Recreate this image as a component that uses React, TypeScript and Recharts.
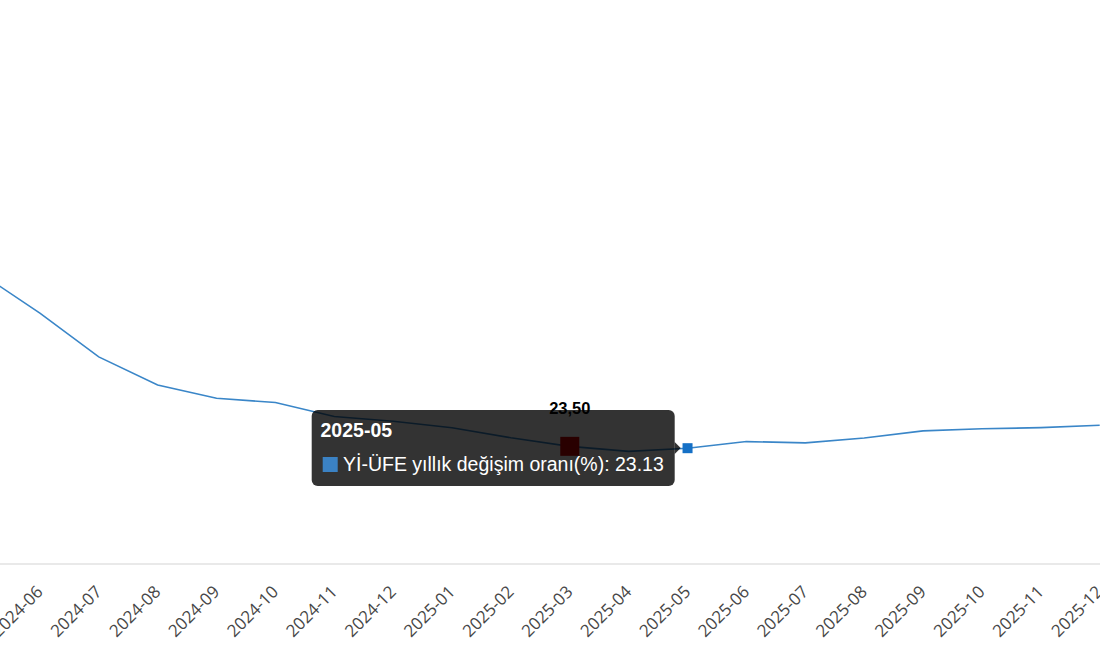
import React from "react";
import { LineChart, Line, XAxis, YAxis, Tooltip, LabelList } from "recharts";

const months = [
  "2024-05", "2024-06", "2024-07", "2024-08", "2024-09", "2024-10", "2024-11", "2024-12",
  "2025-01", "2025-02", "2025-03", "2025-04", "2025-05", "2025-06", "2025-07", "2025-08",
  "2025-09", "2025-10", "2025-11", "2025-12",
];
const yiUfe = [
  58.0, 50.09, 41.37, 35.75, 33.09, 32.24, 29.47, 28.52,
  27.2, 25.21, 23.5, 22.5, 23.13, 24.45, 24.19, 25.16,
  26.59, 27.0, 27.23, 27.7,
];
const SERIES_NAME = "Yİ-ÜFE yıllık değişim oranı(%)";
const HIGHLIGHT_MONTH = "2025-03";
const ACTIVE_MONTH = "2025-05";

const data = months.map((m, i) => ({ month: m, value: yiUfe[i] }));
const highlightIndex = months.indexOf(HIGHLIGHT_MONTH);
const activeIndex = months.indexOf(ACTIVE_MONTH);

const CHART_LEFT = -18.7;
const CHART_WIDTH = 1128.7;
const LINE_COLOR = "#3a86c8";

const Tick = (props: any) => {
  const { x, y, payload } = props;
  return (
    <g transform={`translate(${x + 4},${y + 21})`}>
      <text
        textAnchor="end"
        transform="rotate(-45)"
        fill="#474747"
        fontSize={17}
        fontFamily="'Open Sans', sans-serif"
      >
        {payload.value}
      </text>
    </g>
  );
};

const Dot = (props: any) => {
  const { cx, cy, index } = props;
  if (index !== highlightIndex) return <g key={`dot-${index}`} />;
  return (
    <rect key={`dot-${index}`} x={cx - 9.5} y={cy - 9.5} width={19} height={19} fill="#cc0000" />
  );
};

const ActiveDot = (props: any) => {
  const { cx, cy } = props;
  return <rect x={cx - 5} y={cy - 5} width={10} height={10} fill="#1570c6" />;
};

const HighlightLabel = (props: any) => {
  const { x, y, value, index } = props;
  if (index !== highlightIndex) return null;
  return (
    <text
      x={x}
      y={y - 32.8}
      textAnchor="middle"
      fontWeight="bold"
      fontSize={16.5}
      fontFamily="'Liberation Sans', Arial, sans-serif"
      fill="#000"
    >
      {Number(value).toFixed(2).replace(".", ",")}
    </text>
  );
};

const TipContent = (props: any) => {
  const { payload, label } = props;
  if (!payload || !payload.length) return null;
  const item = payload[0];
  return (
    <div
      style={{
        position: "relative",
        width: 363,
        height: 76,
        background: "rgba(0,0,0,0.8)",
        borderRadius: 6,
        color: "#fff",
        fontFamily: "'Liberation Sans', Arial, sans-serif",
        fontSize: 19.5,
        lineHeight: "19.5px",
        whiteSpace: "nowrap",
      }}
    >
      <div style={{ position: "absolute", left: 8.5, top: 10.8, fontWeight: "bold" }}>{label}</div>
      <div
        style={{
          position: "absolute",
          left: 11,
          top: 47,
          width: 15,
          height: 15,
          background: "#3b82c4",
        }}
      />
      <div style={{ position: "absolute", left: 31, top: 44.5 }}>
        {`${item.name}: ${Number(item.value).toFixed(2)}`}
      </div>
      <div
        style={{
          position: "absolute",
          left: 363,
          top: 32,
          width: 0,
          height: 0,
          borderTop: "6px solid transparent",
          borderBottom: "6px solid transparent",
          borderLeft: "6px solid rgba(0,0,0,0.8)",
        }}
      />
    </div>
  );
};

export default function App() {
  return (
    <div
      style={{
        position: "fixed",
        left: 0,
        top: 0,
        width: 1100,
        height: 650,
        overflow: "hidden",
        background: "#fff",
      }}
    >
      <div style={{ position: "absolute", left: CHART_LEFT, top: 0 }}>
        <LineChart
          width={CHART_WIDTH}
          height={650}
          data={data}
          margin={{ top: 63.3, right: 0, bottom: 0, left: 0 }}
        >
          <XAxis
            dataKey="month"
            interval={0}
            tickLine={false}
            axisLine={{ stroke: "#e2e2e2", strokeWidth: 1.5 }}
            height={86}
            padding={{ left: 0, right: 10 }}
            tick={<Tick />}
          />
          <YAxis hide domain={[0, 100]} />
          <Tooltip
            defaultIndex={activeIndex}
            active={true}
            cursor={false}
            isAnimationActive={false}
            position={{ x: 312 - CHART_LEFT, y: 410 }}
            content={<TipContent />}
          />
          <Line
            type="linear"
            dataKey="value"
            name={SERIES_NAME}
            stroke={LINE_COLOR}
            strokeWidth={1.6}
            dot={<Dot />}
            activeDot={<ActiveDot />}
            isAnimationActive={false}
          >
            <LabelList dataKey="value" content={<HighlightLabel />} />
          </Line>
        </LineChart>
      </div>
    </div>
  );
}
